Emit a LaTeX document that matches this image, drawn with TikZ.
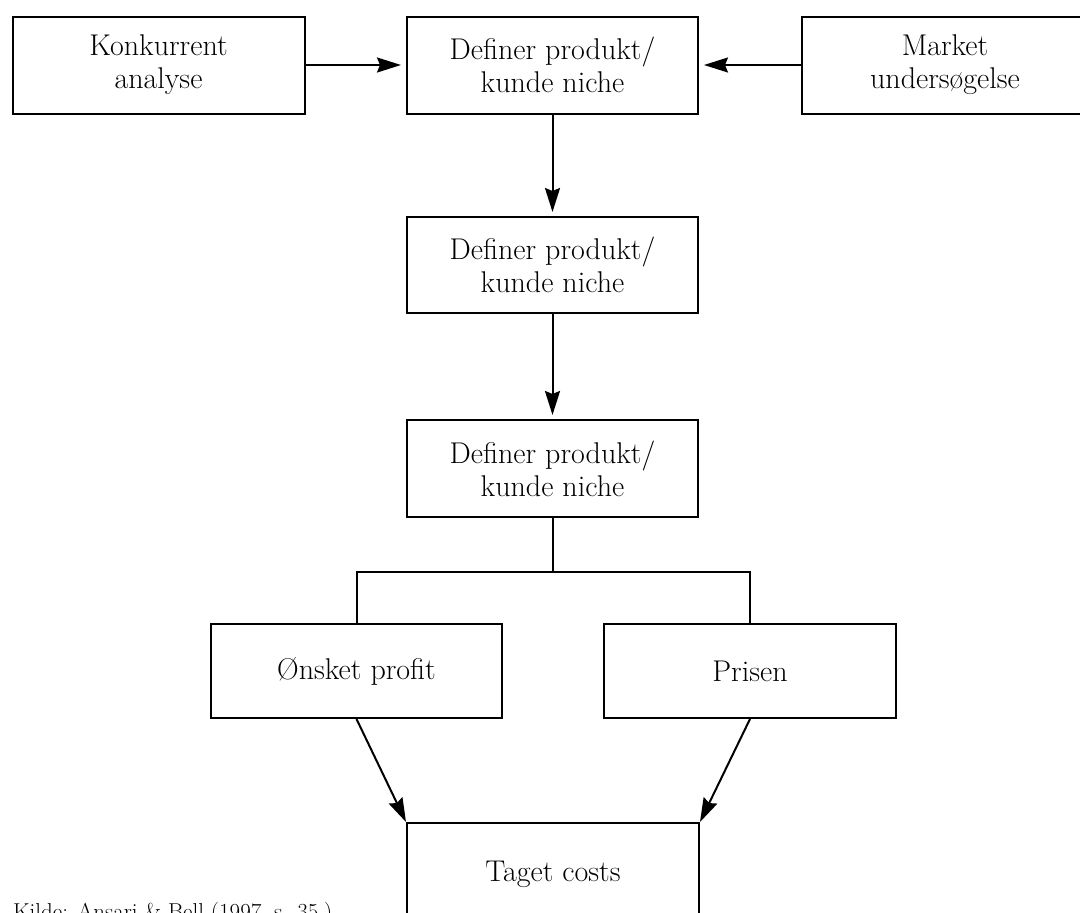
\documentclass[tikz,border=0pt]{standalone}
\usepackage{fontspec}
\usetikzlibrary{arrows.meta}
\begin{document}
\begin{tikzpicture}[x=1pt,y=1pt,
  box/.style={draw=black, line width=2pt, minimum width=291pt, minimum height=97pt,
    align=center, inner sep=0pt, font=\fontsize{30}{33}\selectfont},
  wire/.style={line width=2pt, black},
  arr/.style={wire, -{Stealth[length=24pt,width=15pt,inset=3pt]}}]
\useasboundingbox (0,0) rectangle (1080,-913);
\node[box, minimum width=292pt] (ka) at (158.5,-65) {Konkurrent\\analyse};
\node[box] (d1) at (552.5,-65) {Definer produkt/\\kunde niche};
\node[box, minimum width=286pt] (mu) at (945,-65) {Market\\undersøgelse};
\node[box, minimum height=96pt] (d2) at (552.5,-265) {Definer produkt/\\kunde niche};
\node[box] (d3) at (552.5,-468.5) {Definer produkt/\\kunde niche};
\node[box, minimum height=94pt] (op) at (356.5,-671) {Ønsket profit};
\node[box, minimum height=94pt, minimum width=292pt] (pr) at (750,-671) {Prisen};
\node[box, minimum width=292pt, minimum height=110pt] (tc) at (553,-878) {\raisebox{13pt}{Taget costs}};
\coordinate (sp) at (552.5,-572);
\node[anchor=base west, inner sep=0pt, font=\fontsize{23}{27}\selectfont] (src) at (13,-919) {Kilde: Ansari \& Bell (1997, s. 35.)};
\draw[arr, shorten >=5pt] (ka) -- (d1);
\draw[arr, shorten >=5pt] (mu) -- (d1);
\draw[arr, shorten >=4pt] (d1) -- (d2);
\draw[arr, shorten >=4pt] (d2) -- (d3);
\draw[wire] (d3.south) -- (sp);
\draw[wire] (op.north) |- (sp) -| (pr.north);
\draw[arr] (op.south) -- (tc.north west);
\draw[arr] (pr.south) -- (tc.north east);
\end{tikzpicture}
\end{document}
